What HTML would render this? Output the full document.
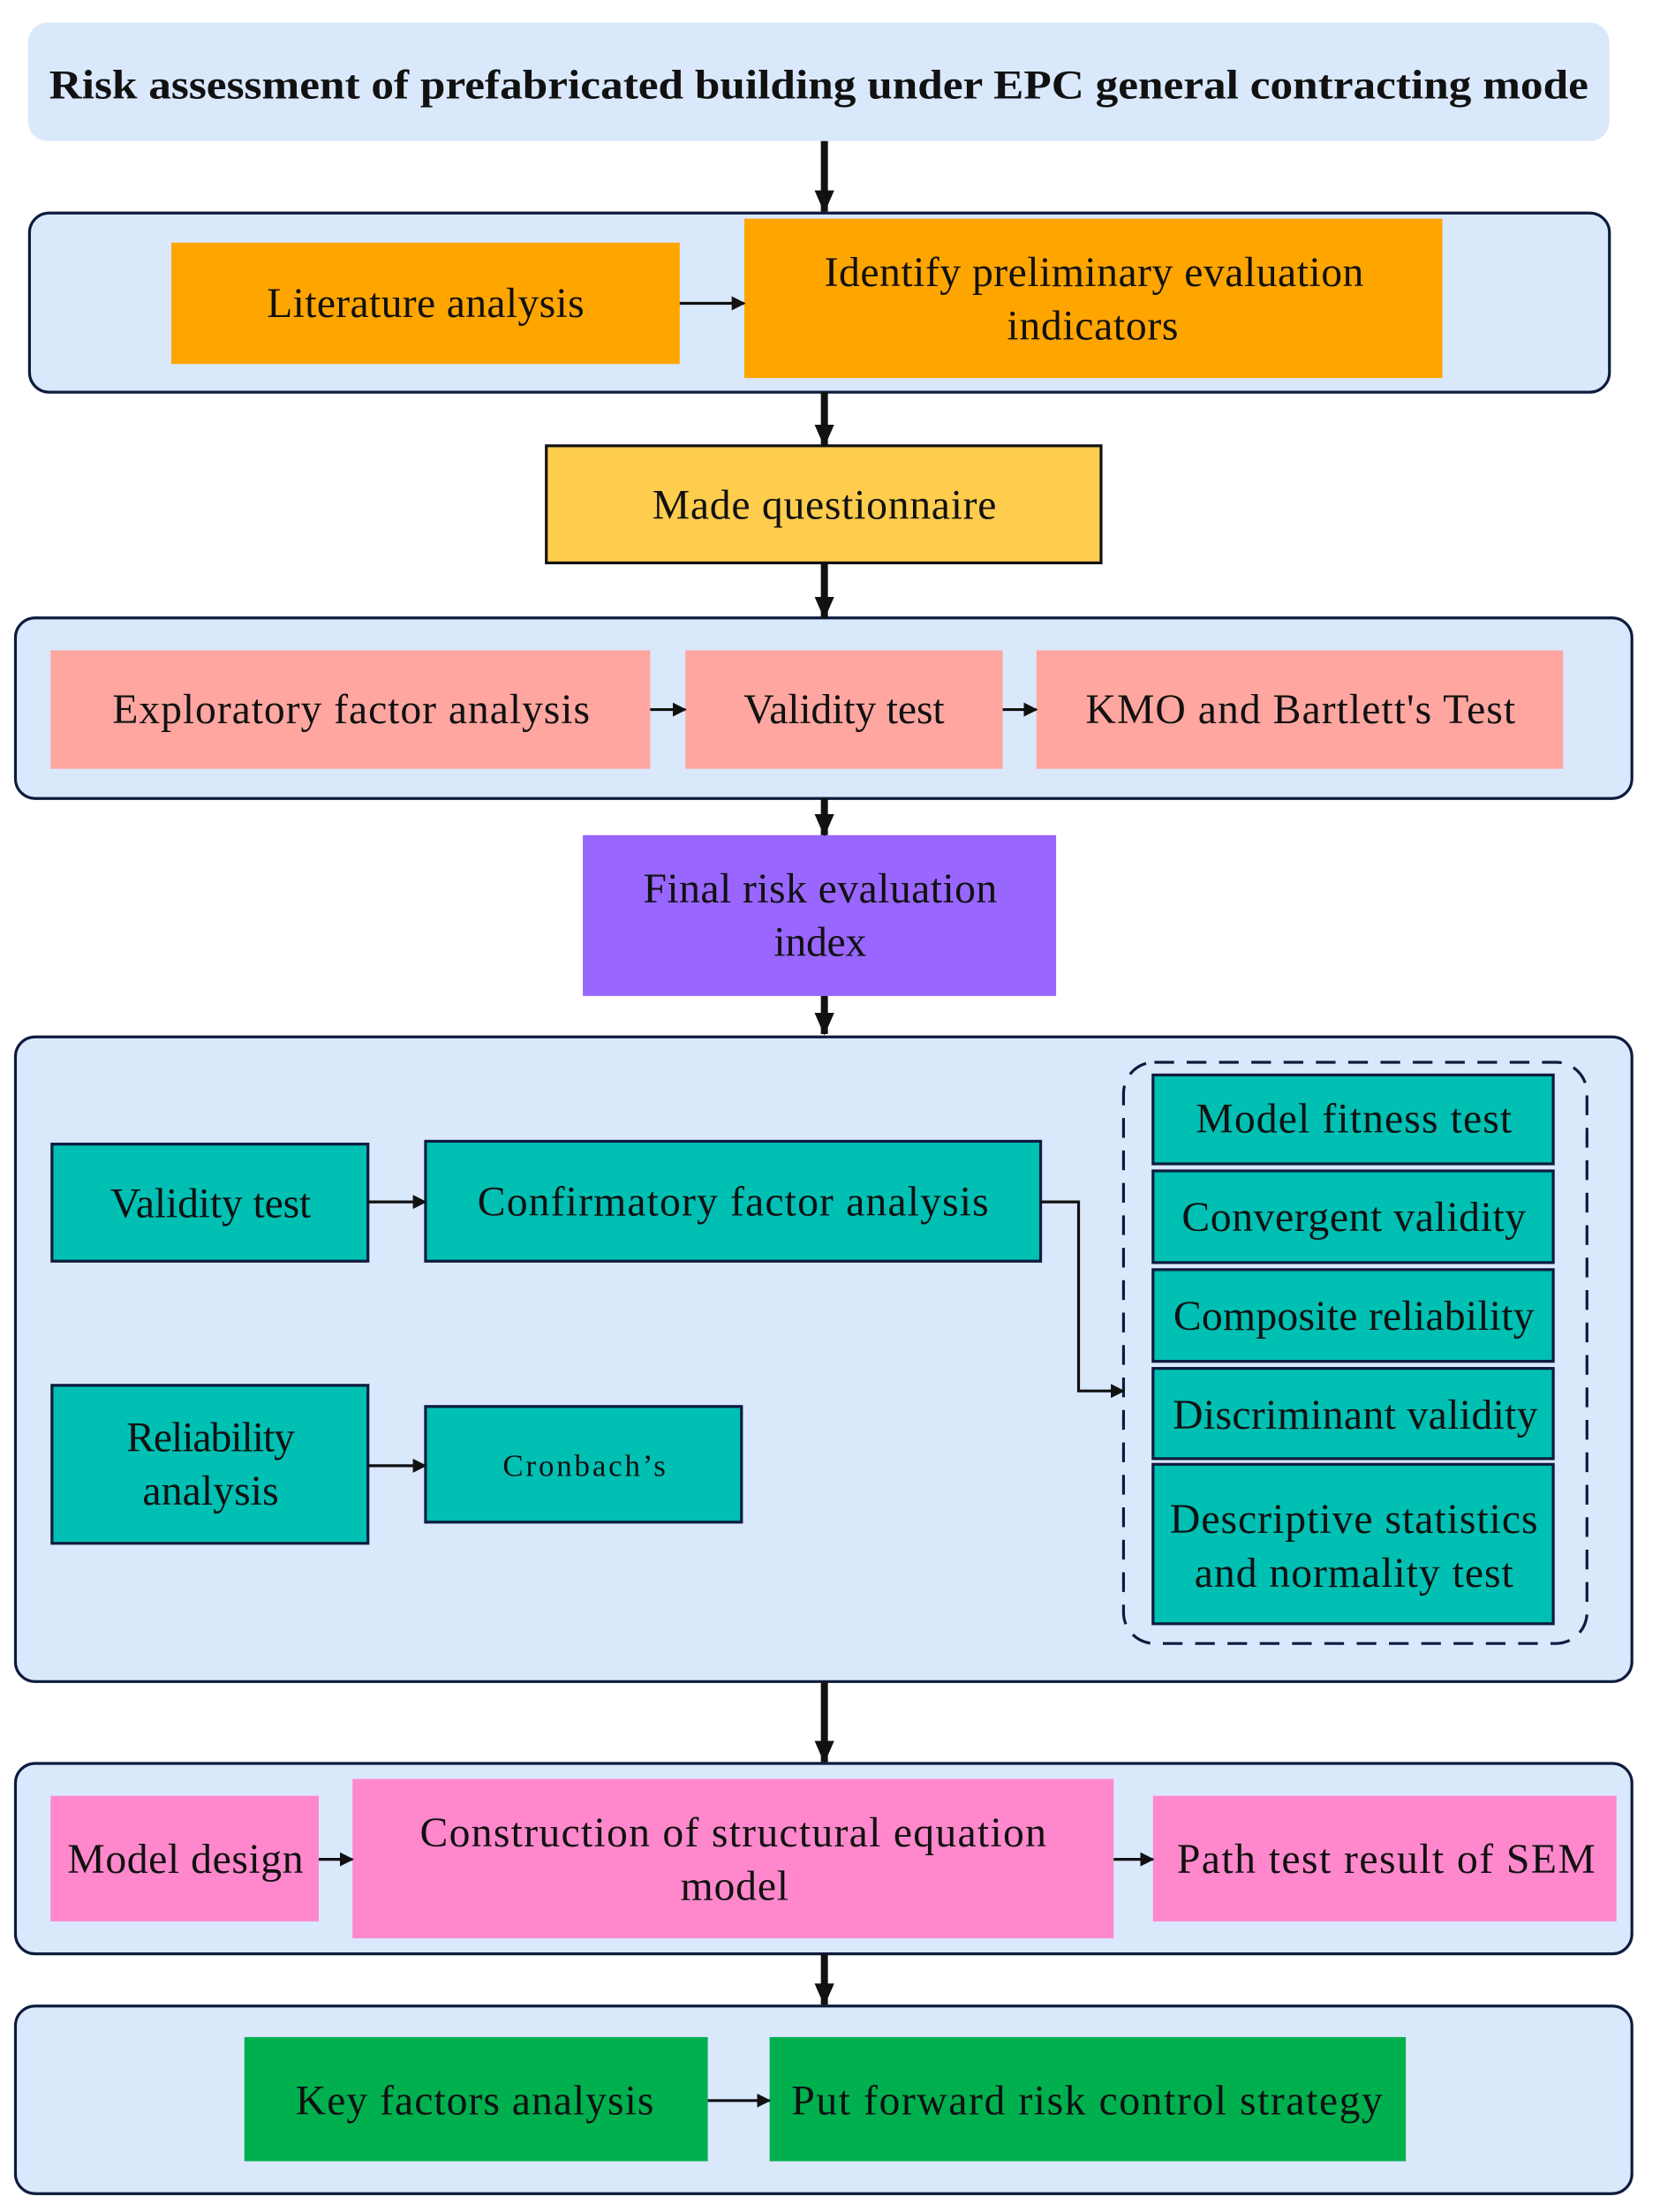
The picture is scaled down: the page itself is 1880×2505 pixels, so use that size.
<!DOCTYPE html>
<html><head><meta charset="utf-8"><style>html,body{margin:0;padding:0;background:#fff}svg{display:block}text{font-family:"Liberation Serif",serif;fill:#111;text-anchor:middle;dominant-baseline:central}</style></head>
<body>
<svg width="1880" height="2505" viewBox="0 0 1182 1568" preserveAspectRatio="none" xmlns="http://www.w3.org/2000/svg">
<defs>
<marker id="a" markerWidth="10" markerHeight="10" refX="9" refY="5" orient="auto" markerUnits="userSpaceOnUse"><path d="M0,0 L10,5 L0,10 z" fill="#111"/></marker>
<marker id="b" markerWidth="16" markerHeight="14" refX="15" refY="7" orient="auto" markerUnits="userSpaceOnUse"><path d="M0,0 L16,7 L0,14 z" fill="#111"/></marker>
</defs>
<g stroke="#0d1b3e" stroke-width="2" fill="#dae8fc">
<rect x="20" y="16" width="1126" height="84" rx="14" stroke="none"/>
<rect x="21" y="151" width="1125" height="127" rx="14"/>
<rect x="11" y="438" width="1151" height="128" rx="14"/>
<rect x="11" y="735" width="1151" height="457" rx="14"/>
<rect x="11" y="1250" width="1151" height="135" rx="14"/>
<rect x="11" y="1422" width="1151" height="133" rx="14"/>
<rect x="800" y="753" width="330" height="412" rx="22" stroke-dasharray="14,9"/>
</g>
<text x="583" y="60" font-size="29" font-weight="bold" textLength="1096" lengthAdjust="spacingAndGlyphs">Risk assessment of prefabricated building under EPC general contracting mode</text>
<g fill="#ffa500"><rect x="122" y="172" width="362" height="86"/><rect x="530" y="155" width="497" height="113"/></g>
<rect x="389" y="316" width="395" height="83" fill="#ffcd4d" stroke="#111" stroke-width="2"/>
<g fill="#ffa6a0"><rect x="36" y="461" width="427" height="84"/><rect x="488" y="461" width="226" height="84"/><rect x="738" y="461" width="375" height="84"/></g>
<rect x="415" y="592" width="337" height="114" fill="#9966ff"/>
<g fill="#00bfb3" stroke="#0d1b3e" stroke-width="2">
<rect x="37" y="811" width="225" height="83"/><rect x="303" y="809" width="438" height="85"/>
<rect x="37" y="982" width="225" height="112"/><rect x="303" y="997" width="225" height="82"/>
<rect x="821" y="762" width="285" height="63"/><rect x="821" y="830" width="285" height="65"/>
<rect x="821" y="900" width="285" height="65"/><rect x="821" y="970" width="285" height="64"/>
<rect x="821" y="1038" width="285" height="113"/>
</g>
<g fill="#ff88cc"><rect x="36" y="1273" width="191" height="89"/><rect x="251" y="1261" width="542" height="113"/><rect x="821" y="1273" width="330" height="89"/></g>
<g fill="#00b04f"><rect x="174" y="1444" width="330" height="88"/><rect x="548" y="1444" width="453" height="88"/></g>
<g font-size="30" lengthAdjust="spacingAndGlyphs">
<text x="303" y="215" textLength="226">Literature analysis</text>
<text x="779" y="193" textLength="384">Identify preliminary evaluation</text><text x="778" y="231" textLength="122">indicators</text>
<text x="587" y="358" textLength="245">Made questionnaire</text>
<text x="250" y="503" textLength="340">Exploratory factor analysis</text>
<text x="601" y="503" textLength="143">Validity test</text>
<text x="926" y="503" textLength="306">KMO and Bartlett's Test</text>
<text x="584" y="630" textLength="252">Final risk evaluation</text><text x="584" y="668" textLength="66">index</text>
<text x="150" y="853" textLength="143">Validity test</text>
<text x="522" y="852" textLength="364">Confirmatory factor analysis</text>
<text x="150" y="1019" textLength="120">Reliability</text><text x="150" y="1057" textLength="97">analysis</text>
<text x="416" y="1039" font-size="22" textLength="116">Cronbach’s</text>
<text x="964" y="793" textLength="225">Model fitness test</text>
<text x="964" y="863" textLength="245">Convergent validity</text>
<text x="964" y="933" textLength="257">Composite reliability</text>
<text x="965" y="1003" textLength="260">Discriminant validity</text>
<text x="964" y="1077" textLength="262">Descriptive statistics</text><text x="964" y="1115" textLength="227">and normality test</text>
<text x="132" y="1318" textLength="168">Model design</text>
<text x="522" y="1299" textLength="446">Construction of structural equation</text><text x="523" y="1337" textLength="77">model</text>
<text x="987" y="1318" textLength="298">Path test result of SEM</text>
<text x="338" y="1489" textLength="255">Key factors analysis</text>
<text x="774" y="1489" textLength="421">Put forward risk control strategy</text>
</g>
<g stroke="#111" stroke-width="5" fill="none" marker-end="url(#b)">
<line x1="587" y1="100" x2="587" y2="150"/><line x1="587" y1="278" x2="587" y2="316"/>
<line x1="587" y1="399" x2="587" y2="438"/><line x1="587" y1="566" x2="587" y2="592"/>
<line x1="587" y1="706" x2="587" y2="733"/><line x1="587" y1="1192" x2="587" y2="1249"/>
<line x1="587" y1="1385" x2="587" y2="1421"/>
</g>
<g stroke="#111" stroke-width="2" fill="none" marker-end="url(#a)">
<line x1="484" y1="215" x2="530" y2="215"/><line x1="463" y1="503" x2="488" y2="503"/>
<line x1="714" y1="503" x2="738" y2="503"/><line x1="262" y1="852" x2="303" y2="852"/>
<line x1="262" y1="1039" x2="303" y2="1039"/><polyline points="741,852 768,852 768,986 800,986"/>
<line x1="227" y1="1318" x2="251" y2="1318"/><line x1="793" y1="1318" x2="821" y2="1318"/>
<line x1="504" y1="1489" x2="548" y2="1489"/>
</g>
</svg>
</body></html>
